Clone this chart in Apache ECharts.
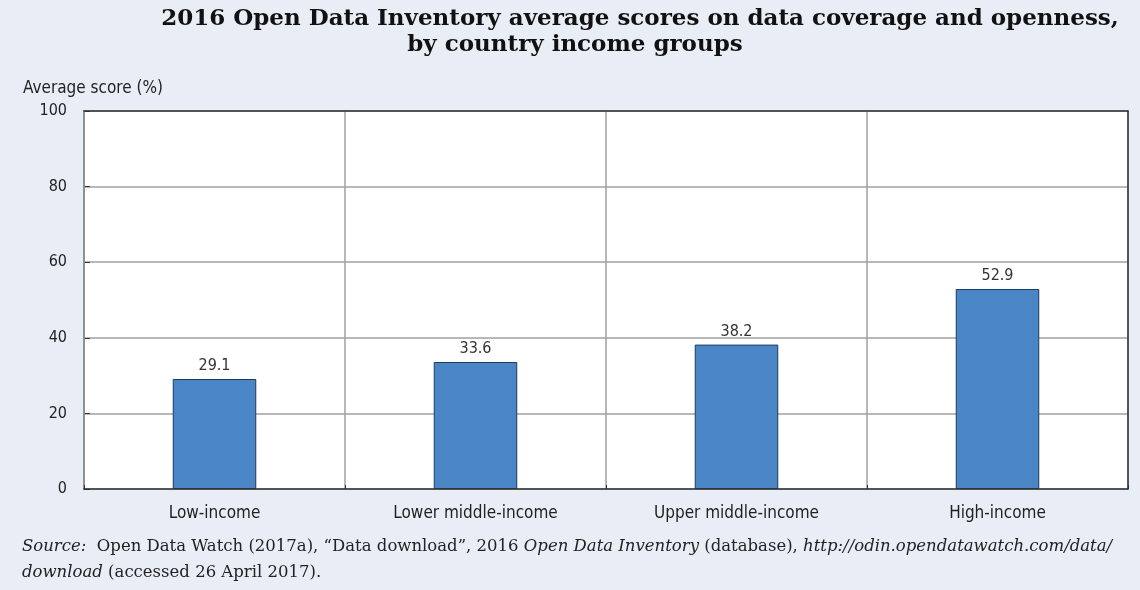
<!DOCTYPE html>
<html>
<head>
<meta charset="utf-8">
<script src="https://cdn.jsdelivr.net/npm/echarts@6/dist/echarts.min.js"></script>
<style>
  html, body { margin: 0; padding: 0; background: #e9eef6; }
  #chart { width: 1140px; height: 590px; }
</style>
</head>
<body>
<div id="chart"></div>
<script>
// Income groups and their average ODIN scores (%)
const categories = ['Low-income', 'Lower middle-income', 'Upper middle-income', 'High-income'];
const scores = [29.1, 33.6, 38.2, 52.9];
const yTicks = [0, 20, 40, 60, 80, 100];

const titleLine1 = '2016 Open Data Inventory average scores on data coverage and openness,';
const titleLine2 = 'by country income groups';
const yAxisName = 'Average score (%)';

const narrow = "'Liberation Sans Narrow', 'DejaVu Sans Condensed', 'Liberation Sans', sans-serif";
const serif = "'DejaVu Serif', 'Liberation Serif', serif";
const frame = { color: '#333333', width: 1.5 };

const chart = echarts.init(document.getElementById('chart'));
chart.setOption({
  backgroundColor: '#e9eef6',
  animation: false,
  grid: {
    left: 84, right: 12, top: 111, bottom: 101,
    show: true, backgroundColor: '#ffffff', borderWidth: 0
  },
  xAxis: [{
    type: 'category',
    data: categories,
    z: 3,
    axisLine: { lineStyle: frame },
    axisTick: { show: true, inside: true, length: 4, lineStyle: { color: '#333' } },
    splitLine: { show: true, lineStyle: { color: '#a0a0a0', width: 1.5 } },
    axisLabel: { color: '#222', fontFamily: narrow, fontSize: 17, margin: 16 }
  }, {
    // top edge of the frame
    type: 'category', position: 'top', data: categories, z: 3,
    axisLine: { onZero: false, lineStyle: frame }, axisTick: { show: false },
    axisLabel: { show: false }, splitLine: { show: false }
  }],
  yAxis: [{
    type: 'value',
    min: yTicks[0], max: yTicks[yTicks.length - 1], interval: 20,
    axisLine: { show: true, lineStyle: frame },
    axisTick: { show: true, inside: true, length: 6, lineStyle: { color: '#333' } },
    splitLine: { show: true, lineStyle: { color: '#a0a0a0', width: 1.5 } },
    axisLabel: { color: '#222', fontFamily: narrow, fontSize: 16, margin: 17 }
  }, {
    // right edge of the frame
    type: 'value', position: 'right', z: 3,
    min: yTicks[0], max: yTicks[yTicks.length - 1], interval: 20,
    axisLine: { show: true, onZero: false, lineStyle: frame }, axisTick: { show: false },
    axisLabel: { show: false }, splitLine: { show: false }
  }],
  series: [{
    type: 'bar',
    data: scores,
    barWidth: '32%',
    itemStyle: { color: '#4a86c6', borderColor: '#1d3a5f', borderWidth: 1 },
    label: {
      show: true, position: 'top', distance: 5,
      color: '#333', fontFamily: narrow, fontSize: 16,
      formatter: p => p.value.toFixed(1)
    }
  }],
  graphic: [
    { type: 'text', x: 640, y: 8, style: { text: titleLine1, align: 'center', verticalAlign: 'top', font: "bold 23px " + serif, fill: '#111' } },
    { type: 'text', x: 575, y: 34, style: { text: titleLine2, align: 'center', verticalAlign: 'top', font: "bold 23px " + serif, fill: '#111' } },
    { type: 'text', x: 23, y: 80, style: { text: yAxisName, verticalAlign: 'top', font: "17px " + narrow, fill: '#222' } },
    {
      type: 'text', x: 22, y: 534,
      style: {
        text: '{i|Source:}  Open Data Watch (2017a), \u201cData download\u201d, 2016 {i|Open Data Inventory} (database), {i|http://odin.opendatawatch.com/data/}\n{i|download} (accessed 26 April 2017).',
        font: "16.5px " + serif, fill: '#222', lineHeight: 26, verticalAlign: 'top',
        rich: { i: { fontStyle: 'italic', fontFamily: serif, fontSize: 16.5, fill: '#222', lineHeight: 26 } }
      }
    }
  ]
});
</script>
</body>
</html>
